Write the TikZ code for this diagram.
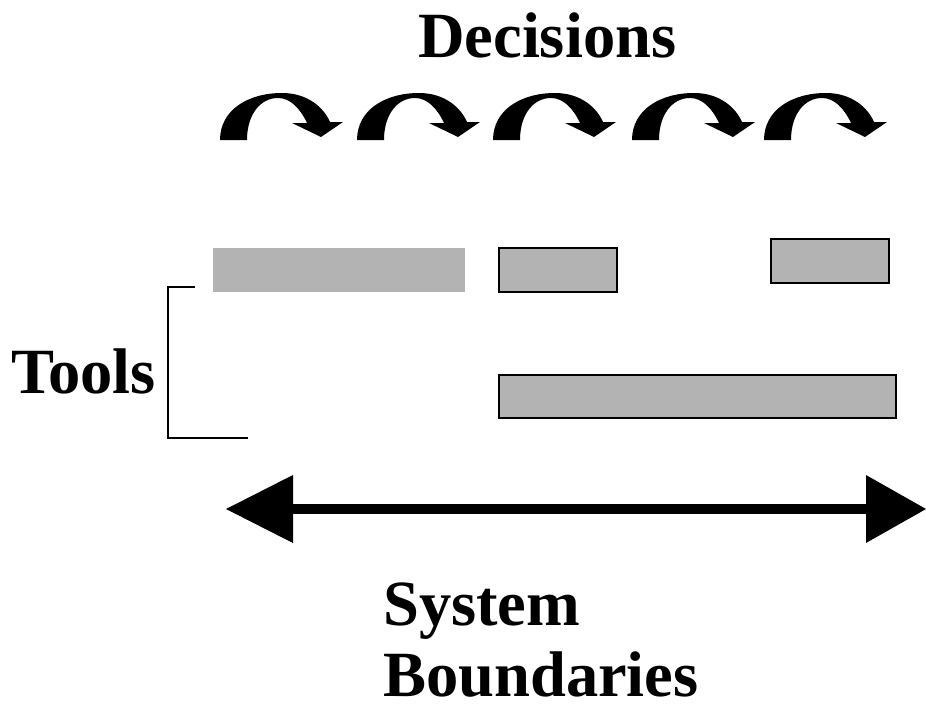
\documentclass[tikz,border=0pt]{standalone}
\usepackage{fontspec}
\setmainfont{Liberation Serif}
\definecolor{boxgray}{HTML}{B3B3B3}
\tikzset{
  lbl/.style={font=\bfseries\fontsize{64.5}{64.5}\selectfont, inner sep=0pt, anchor=base west},
  toolbar/.style={fill=boxgray, draw=black, line width=1.3pt, inner sep=0pt},
  plainbar/.style={fill=boxgray, draw=none, inner sep=0pt},
  bracket/.style={draw=black, line width=1.5pt},
}
\begin{document}
\begin{tikzpicture}[x=1pt,y=-1pt]
\useasboundingbox (0,0) rectangle (926,704);
% texts
\node[lbl] (dec) at (418,57) {Decisions};
\node[lbl] (tools) at (11,393) {Tools};
\node[lbl] (sys) at (383,625) {System};
\node[lbl] (bnd) at (383,696) {Boundaries};
% curved arrows
\foreach \xo in {220,357,493,632,764}{
  \fill[black, shift={(\xo,0)}]
    (0,140) .. controls (0,110) and (28,93) .. (62,93)
    .. controls (88,93) and (104,108) .. (110,122)
    -- (123,122) -- (101,137) -- (72,123) -- (87,123)
    .. controls (80,108) and (70,98) .. (58,98)
    .. controls (40,98) and (27,115) .. (27,140) -- cycle;
}
% bars
\path[plainbar] (213,248) rectangle (465,292);
\path[toolbar] (499,248) rectangle (617,292);
\path[toolbar] (771,239) rectangle (889,283);
\path[toolbar] (499,375) rectangle (896,418);
% bracket
\draw[bracket] (195,287) -- (168,287) -- (168,438) -- (248,438);
% double arrow
\coordinate (lt) at (226,509);
\coordinate (rt) at (926,509);
\fill[black] (293,504) rectangle (866,514);
\fill[black] (lt) -- (293,475) -- (293,543) -- cycle;
\fill[black] (rt) -- (866,475) -- (866,543) -- cycle;
\end{tikzpicture}
\end{document}
